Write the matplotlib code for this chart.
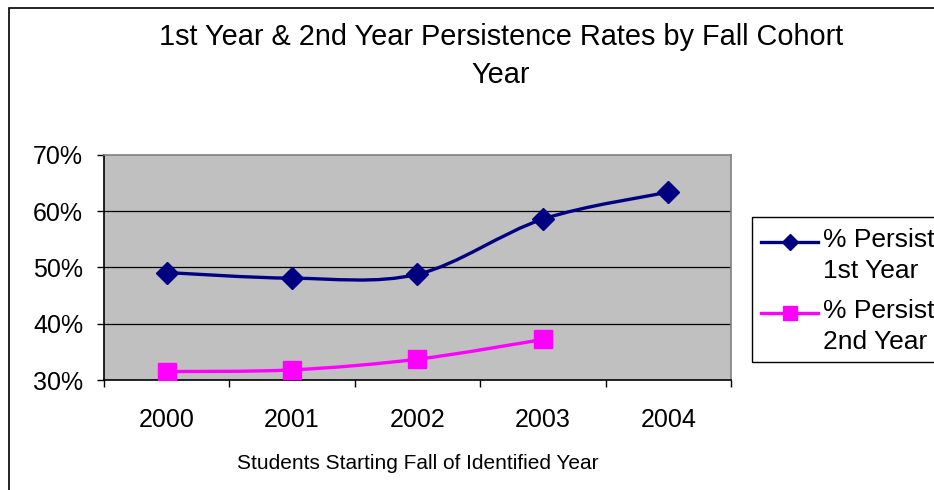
import matplotlib.pyplot as plt
from matplotlib.path import Path
from matplotlib.patches import PathPatch, Rectangle
from matplotlib.lines import Line2D

plt.rcParams['font.family'] = ['Liberation Sans', 'DejaVu Sans']

# Cohort years and persistence rates (%)
years = ['2000', '2001', '2002', '2003', '2004']
persist_1st = [49.1, 48.1, 48.8, 58.6, 63.4]
persist_2nd = [31.5, 31.8, 33.7, 37.2]
y_ticks = [30, 40, 50, 60, 70]

NAVY = '#000080'
MAGENTA = '#FF00FF'


def smooth_path(xs, ys):
    # Bezier segments through every point, like a spreadsheet "smoothed line"
    pts = list(zip(xs, ys))
    verts = [pts[0]]
    codes = [Path.MOVETO]
    n = len(pts)
    for i in range(n - 1):
        p0 = pts[max(i - 1, 0)]
        p1 = pts[i]
        p2 = pts[i + 1]
        p3 = pts[min(i + 2, n - 1)]
        c1 = (p1[0] + (p2[0] - p0[0]) / 6, p1[1] + (p2[1] - p0[1]) / 6)
        c2 = (p2[0] - (p3[0] - p1[0]) / 6, p2[1] - (p3[1] - p1[1]) / 6)
        verts += [c1, c2, p2]
        codes += [Path.CURVE4] * 3
    return Path(verts, codes)


fig = plt.figure(figsize=(9.34, 4.9), dpi=100)
ax = fig.add_axes([104 / 934, 110 / 490, 627 / 934, 225 / 490])
ax.set_facecolor('#C0C0C0')

x1 = list(range(len(persist_1st)))
x2 = list(range(len(persist_2nd)))

ax.add_patch(PathPatch(smooth_path(x1, persist_1st), fill=False,
                       edgecolor=NAVY, lw=2.4, zorder=3))
ax.add_patch(PathPatch(smooth_path(x2, persist_2nd), fill=False,
                       edgecolor=MAGENTA, lw=2.4, zorder=3))
ax.plot(x1, persist_1st, ls='none', marker='D', ms=11.5, color=NAVY, zorder=4)
ax.plot(x2, persist_2nd, ls='none', marker='s', ms=13, color=MAGENTA, zorder=4)

ax.set_xlim(-0.5, len(years) - 0.5)
ax.set_ylim(30, 70)
ax.set_yticks(y_ticks)
ax.set_yticklabels([f'{v}%' for v in y_ticks])
ax.set_xticks(range(len(years)))
ax.set_xticklabels(years)
ax.set_xticks([i - 0.5 for i in range(len(years) + 1)], minor=True)
ax.tick_params(axis='x', which='major', length=0, pad=20, labelsize=18)
ax.tick_params(axis='x', which='minor', length=5, width=1, direction='out')
ax.tick_params(axis='y', length=5, width=1, pad=10, labelsize=18)

for v in y_ticks[1:-1]:
    ax.axhline(v, color='black', lw=0.9, zorder=1)
ax.spines['top'].set_color('#808080')
ax.spines['right'].set_color('#808080')
for s in ax.spines.values():
    s.set_linewidth(1.2)

ax.set_xlabel('Students Starting Fall of Identified Year', fontsize=15, labelpad=16)

fig.text(501 / 934, 1 - 45 / 490,
         '1st Year & 2nd Year Persistence Rates by Fall Cohort',
         ha='center', va='baseline', fontsize=20.8)
fig.text(501 / 934, 1 - 83 / 490, 'Year', ha='center', va='baseline', fontsize=20.8)

# outer chart frame
fig.add_artist(Rectangle((9 / 934, -0.1), 1.2, 1.1 - 8 / 490, fill=False,
                         edgecolor='black', lw=1.2, transform=fig.transFigure))

# legend box
fig.add_artist(Rectangle((752 / 934, 1 - 362 / 490), 0.3, 145 / 490, fill=False,
                         edgecolor='black', lw=1.0, transform=fig.transFigure))
for color, marker, ms, ly, lines in [
        (NAVY, 'D', 8.5, 242, ('% Persist', '1st Year')),
        (MAGENTA, 's', 9.5, 313, ('% Persist', '2nd Year'))]:
    fig.add_artist(Line2D([761 / 934, 818 / 934], [1 - ly / 490] * 2, color=color,
                          lw=2.4, transform=fig.transFigure))
    fig.add_artist(Line2D([789.5 / 934], [1 - ly / 490], color=color, ls='none',
                          marker=marker, ms=ms, transform=fig.transFigure))
    fig.text(823 / 934, 1 - (ly + 5) / 490, lines[0], va='baseline', fontsize=19)
    fig.text(823 / 934, 1 - (ly + 36) / 490, lines[1], va='baseline', fontsize=19)

fig.savefig('out.png', dpi=100)
